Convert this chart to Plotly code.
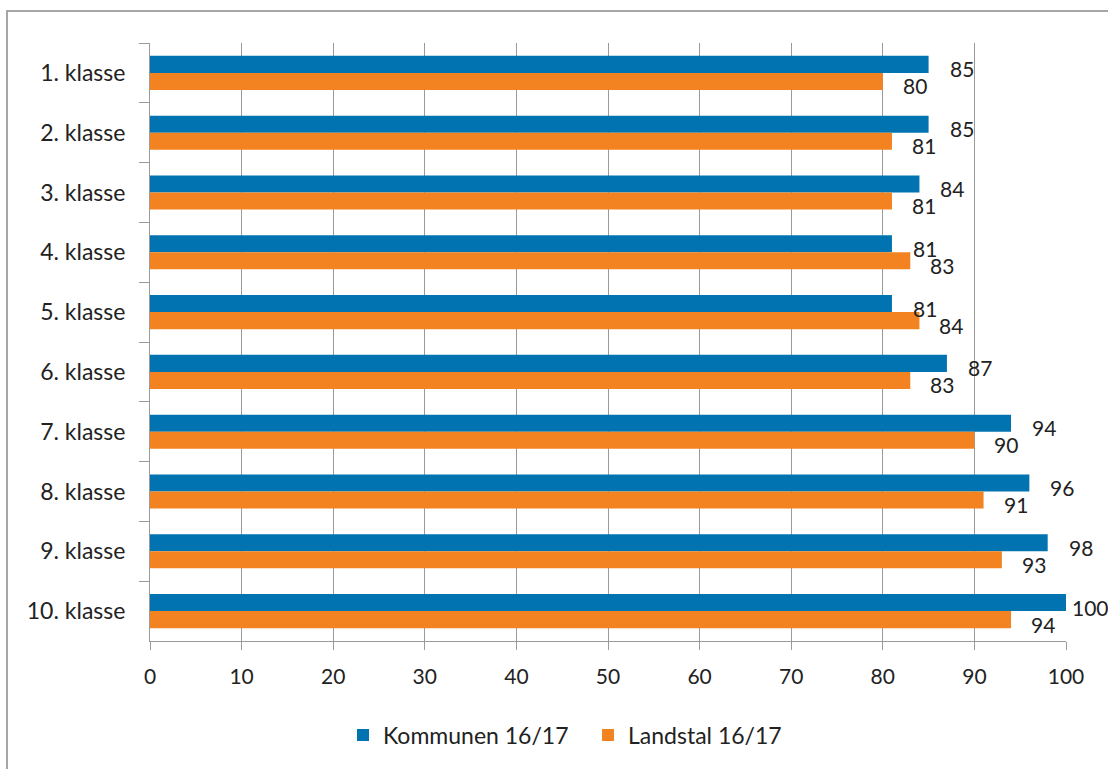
import plotly.graph_objects as go

categories = ["1. klasse", "2. klasse", "3. klasse", "4. klasse", "5. klasse",
              "6. klasse", "7. klasse", "8. klasse", "9. klasse", "10. klasse"]
kommunen = [85, 85, 84, 81, 81, 87, 94, 96, 98, 100]
landstal = [80, 81, 81, 83, 84, 83, 90, 91, 93, 94]
series_names = ["Kommunen 16/17", "Landstal 16/17"]
x_ticks = [0, 10, 20, 30, 40, 50, 60, 70, 80, 90, 100]

BLUE = "#0173B1"
ORANGE = "#F38321"
GRID = "#9a9a9a"
FONT = "Lato"
FS = 21
FS_TXT = 23
TXT = "#222222"

fig = go.Figure()
fig.add_trace(go.Bar(y=categories, x=kommunen, orientation="h", name=series_names[0],
                     marker=dict(color=BLUE, line=dict(width=0))))
fig.add_trace(go.Bar(y=categories, x=landstal, orientation="h", name=series_names[1],
                     marker=dict(color=ORANGE, line=dict(width=0))))

annotations = []
for cat, v in zip(categories, kommunen):
    annotations.append(dict(x=v, y=cat, xref="x", yref="y", text=str(v), showarrow=False,
                            xanchor="left", yanchor="middle", xshift=19 if v < 99 else 4, yshift=4,
                            font=dict(family=FONT, size=FS, color=TXT)))
for cat, v in zip(categories, landstal):
    annotations.append(dict(x=v, y=cat, xref="x", yref="y", text=str(v), showarrow=False,
                            xanchor="left", yanchor="middle", xshift=18, yshift=-13,
                            font=dict(family=FONT, size=FS, color=TXT)))

L, R, T, B = 150, 42, 43, 128
W, H = 1108, 769
pw, ph = W - L - R, H - T - B

fig.update_layout(
    width=W, height=H,
    margin=dict(l=L, r=R, t=T, b=B),
    paper_bgcolor="white", plot_bgcolor="white",
    barmode="group", bargap=0.43, bargroupgap=0,
    font=dict(family=FONT, size=FS, color=TXT),
    showlegend=True,
    legend=dict(orientation="h", x=(588 - L) / pw, xanchor="center",
                y=-(735 - (T + ph)) / ph, yanchor="middle",
                font=dict(family=FONT, size=FS_TXT, color=TXT),
                itemwidth=30, traceorder="normal", entrywidth=200),
    annotations=annotations,
    shapes=[dict(type="rect", xref="paper", yref="paper",
                 x0=(7 - L) / pw, x1=(1130 - L) / pw,
                 y0=-(800 - T - ph) / ph, y1=1 + (T - 11) / ph,
                 line=dict(color="#a6a6a6", width=2), fillcolor="rgba(0,0,0,0)", layer="below")],
)

fig.update_xaxes(range=[0, 100], tickvals=x_ticks, ticktext=[str(t) for t in x_ticks],
                 showgrid=True, gridcolor=GRID, gridwidth=1,
                 showline=True, linecolor=GRID, linewidth=1,
                 ticks="outside", ticklen=8, tickcolor=GRID,
                 ticklabelstandoff=9, zeroline=False,
                 tickfont=dict(family=FONT, size=FS, color=TXT))
fig.update_yaxes(autorange="reversed", showgrid=False,
                 showline=True, linecolor=GRID, linewidth=1,
                 ticks="outside", ticklen=10, tickcolor=GRID, tickson="boundaries",
                 ticklabelstandoff=19,
                 tickfont=dict(family=FONT, size=FS_TXT, color=TXT))

fig.write_html("out.html", config={"displayModeBar": False},
               post_script="document.body.style.margin='0';")
